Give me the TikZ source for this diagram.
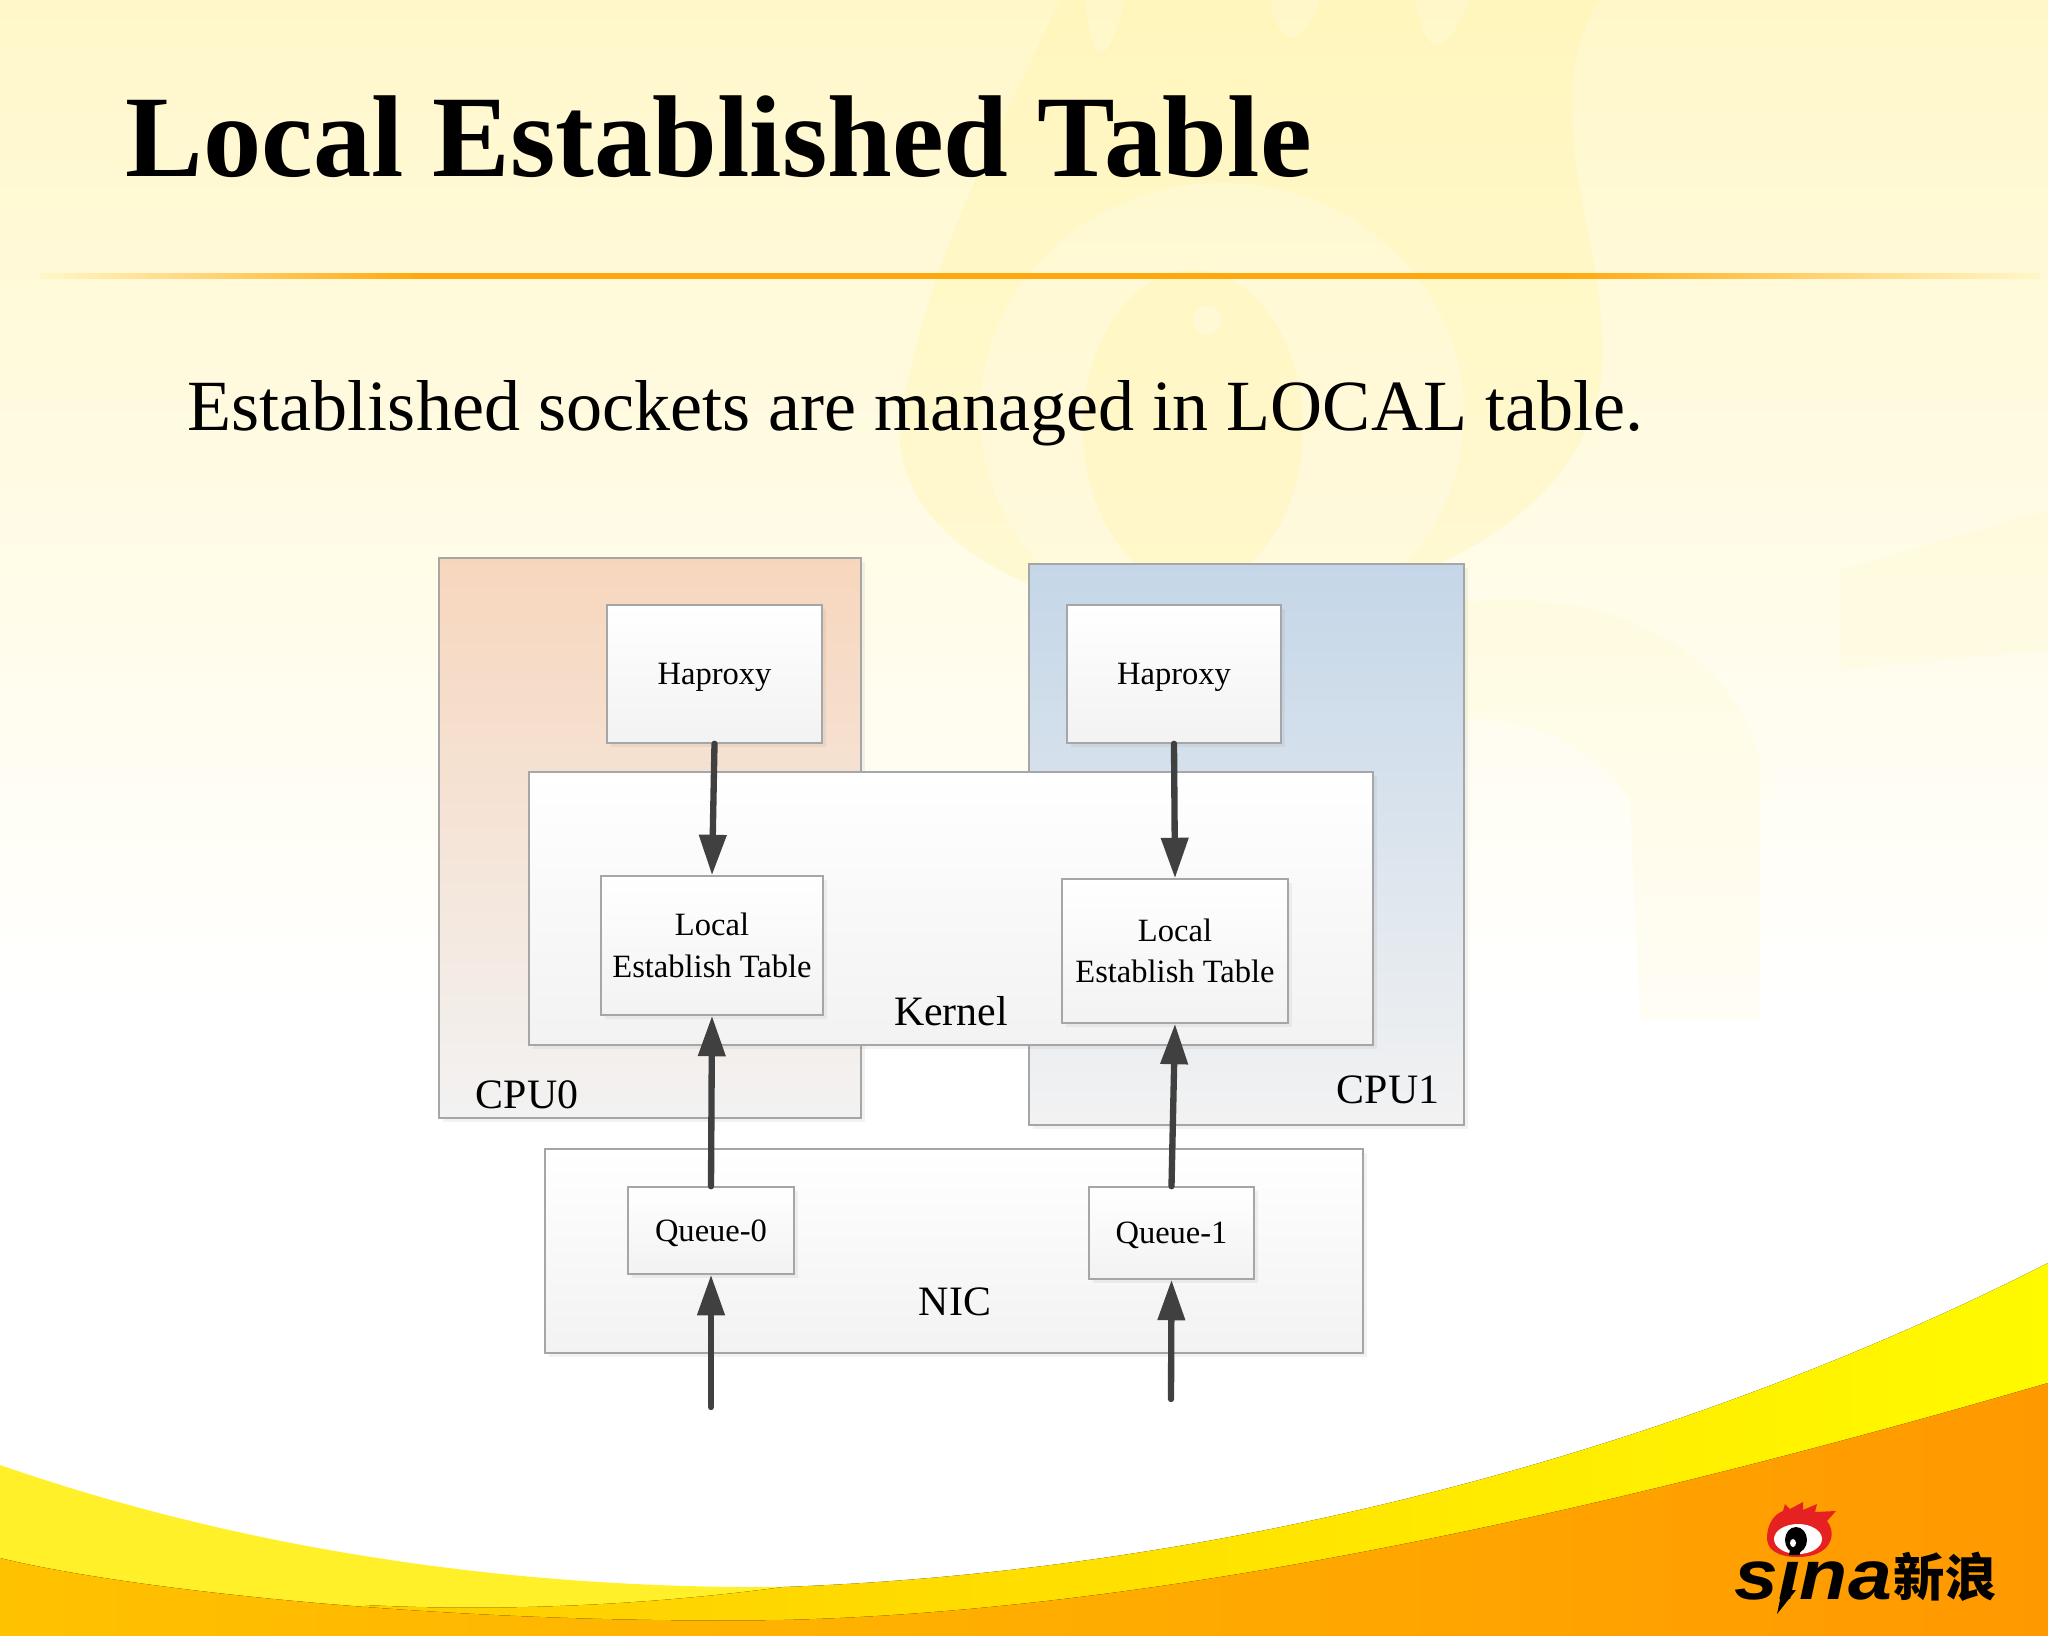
\documentclass[tikz,border=0pt]{standalone}
\usepackage{fontspec}
\setmainfont{Liberation Serif}
\newfontfamily\logofont{Liberation Sans}
\newfontfamily\cjkfont{Noto Sans CJK SC}
\usetikzlibrary{arrows.meta,shadows}
\definecolor{PaleClr}{rgb}{1,0.97,0.79}
\definecolor{MarkClr}{rgb}{1,0.96,0.66}
\definecolor{RuleClr}{rgb}{1,0.66,0.05}
\definecolor{EdgeClr}{rgb}{0.65,0.65,0.65}
\definecolor{ArrowClr}{rgb}{0.25,0.25,0.25}
\definecolor{FootAClr}{rgb}{1,0.94,0.16}
\definecolor{FootBClr}{rgb}{1,0.8,0}
\definecolor{FootMClr}{rgb}{1,0.85,0}
\definecolor{FootCClr}{rgb}{1,0.98,0}
\definecolor{OrangeAClr}{rgb}{1,0.76,0}
\definecolor{OrangeMClr}{rgb}{1,0.7,0}
\definecolor{OrangeBClr}{rgb}{1,0.6,0}
\definecolor{LogoClr}{rgb}{0.9,0.13,0.13}
\definecolor{CpuAClr}{rgb}{0.97,0.84,0.74}
\definecolor{CpuBClr}{rgb}{0.77,0.84,0.91}
\definecolor{LowClr}{rgb}{0.95,0.95,0.95}
\pgfdeclarehorizontalshading{RuleShade}{100bp}{color(0bp)=(PaleClr); color(25bp)=(PaleClr); color(34.5bp)=(RuleClr); color(63bp)=(RuleClr); color(75bp)=(PaleClr); color(100bp)=(PaleClr)}
\tikzset{
  boxbase/.style={draw=EdgeClr,line width=0.45pt,drop shadow={shadow xshift=1.2pt,shadow yshift=-1.2pt,opacity=0.1},inner sep=0pt,align=center},
  cpubox/.style={boxbase,bottom color=LowClr},
  inbox/.style={boxbase,top color=white,bottom color=LowClr,font=\fontsize{9.25}{11.8}\selectfont},
  onebox/.style={inbox,text depth=0pt},
  caption/.style={font=\fontsize{11.9}{14}\selectfont,inner sep=0pt},
  flow/.style={line width=1.8pt,color=ArrowClr,line cap=round,-{Triangle[length=11.5pt,width=7.5pt]}}
}

\begin{document}
\begin{tikzpicture}[x=0.01cm,y=-0.01cm]
\useasboundingbox (0,0) rectangle (2048,1636);

% page
\fill[top color=PaleClr,bottom color=white] (0,0) rectangle (2048,1000);
\fill[white] (0,1000) rectangle (2048,1636);

% watermark
\fill[MarkClr,opacity=0.35] (900,420) .. controls (930,250) and (1000,130) .. (1060,0)
  -- (1085,0) .. controls (1090,60) and (1105,80) .. (1125,0)
  -- (1270,0) .. controls (1280,50) and (1300,50) .. (1320,0)
  -- (1415,0) .. controls (1425,60) and (1445,60) .. (1470,0)
  -- (1600,0) .. controls (1520,120) and (1640,300) .. (1590,420)
  .. controls (1540,560) and (1300,640) .. (1120,610) .. controls (1000,590) and (890,520) .. (900,420) -- cycle;
\fill[white,opacity=0.25] (1222,413) ellipse (242 and 230);
\fill[MarkClr,opacity=0.35] (1193,428) ellipse (110 and 158);
\fill[white,opacity=0.3] (1207,320) circle (14);
\fill[MarkClr,opacity=0.12] (1330,640) .. controls (1500,560) and (1720,600) .. (1760,760)
  -- (1760,1020) -- (1640,1020) -- (1630,800) .. controls (1560,700) and (1430,700) .. (1330,760) -- cycle;
\fill[MarkClr,opacity=0.12] (1840,570) -- (2048,510) -- (2048,650) -- (1840,670) -- cycle;

% rule under the title
\shade[shading=RuleShade] (40,273) rectangle (2040,278);

% foot of the page
\fill[FootAClr] (0,1465) .. controls (130,1510) and (400,1590) .. (783,1587)
  -- (900,1600) -- (365,1612) -- (0,1600) -- cycle;
\fill[left color=FootBClr,middle color=FootMClr,right color=FootCClr] (365,1605) .. controls (500,1612) and (650,1605) .. (783,1587)
  .. controls (1250,1570) and (1700,1440) .. (2048,1263) -- (2048,1420) -- (1200,1630) -- (365,1630) -- cycle;
\fill[left color=OrangeAClr,middle color=OrangeMClr,right color=OrangeBClr] (0,1558) .. controls (130,1590) and (450,1625) .. (783,1620)
  .. controls (1200,1610) and (1680,1490) .. (2048,1383) -- (2048,1636) -- (0,1636) -- cycle;

\node[anchor=west,inner sep=0pt,font=\fontsize{33.1}{36}\selectfont\bfseries] (title) at (125,137) {Local Established Table};
\node[anchor=west,inner sep=0pt,font=\fontsize{20.5}{24}\selectfont] (subtitle) at (187,413) {Established sockets are managed in LOCAL table.};

\node[cpubox,top color=CpuAClr,minimum width=422*0.01cm,minimum height=560*0.01cm] (cpuA) at (650,838) {};
\node[cpubox,top color=CpuBClr,minimum width=435*0.01cm,minimum height=561*0.01cm] (cpuB) at (1246.5,844.5) {};
\node[caption] (cpuAtext) at (527,1095) {CPU0};
\node[caption] (cpuBtext) at (1388,1090) {CPU1};

\node[onebox,minimum width=215*0.01cm,minimum height=138*0.01cm] (haproxyA) at (714.5,674) {Haproxy};
\node[onebox,minimum width=214*0.01cm,minimum height=138*0.01cm] (haproxyB) at (1174,674) {Haproxy};

\node[boxbase,top color=white,bottom color=LowClr,minimum width=844*0.01cm,minimum height=273*0.01cm] (kernel) at (951,908.5) {};
\node[caption] (kerneltext) at (951,1011) {Kernel};

\node[inbox,minimum width=222*0.01cm,minimum height=139*0.01cm] (tableA) at (712,945.5) {Local\\Establish Table};
\node[inbox,minimum width=226*0.01cm,minimum height=144*0.01cm] (tableB) at (1175,951) {Local\\Establish Table};

\node[boxbase,top color=white,bottom color=LowClr,minimum width=818*0.01cm,minimum height=204*0.01cm] (nic) at (954,1251) {};
\node[caption] (nictext) at (955,1302) {NIC};

\node[onebox,minimum width=166*0.01cm,minimum height=87*0.01cm] (queueA) at (711,1230.5) {Queue-0};
\node[onebox,minimum width=165*0.01cm,minimum height=92*0.01cm] (queueB) at (1171.5,1233) {Queue-1};

\coordinate (inA) at (711,1407);
\coordinate (inB) at (1171,1399);

\draw[flow] (haproxyA.south) -- (tableA.north);
\draw[flow] (haproxyB.south) -- (tableB.north);
\draw[flow] (queueA.north) -- (tableA.south);
\draw[flow] (queueB.north) -- (tableB.south);
\draw[flow] (inA) -- (queueA.south);
\draw[flow] (inB) -- (queueB.south);

% logo
\fill[LogoClr] (1767,1536) .. controls (1768,1522) and (1775,1514) .. (1783,1511)
  -- (1785,1504) -- (1790,1509) -- (1803,1502) -- (1803,1510) -- (1817,1504) -- (1815,1512) -- (1836,1511)
  -- (1827,1521) .. controls (1838,1535) and (1830,1557) .. (1798,1557) .. controls (1778,1557) and (1766,1550) .. (1767,1536) -- cycle;
\fill[white] (1798,1539) ellipse (24 and 15);
\fill[black] (1796,1540) ellipse (11 and 13);
\fill[white] (1793,1543) ellipse (3 and 4);
\node[inner sep=0pt,xscale=1.12,font=\logofont\fontsize{20}{22}\selectfont\bfseries\itshape] (sina) at (1813,1574) {sina};
\fill[black] (1782,1590) -- (1796,1590) -- (1777,1614) -- cycle;
\node[inner sep=0pt,font=\cjkfont\fontsize{14.6}{16}\selectfont\bfseries] (xinlang) at (1945,1577) {新浪};

\end{tikzpicture}
\end{document}
